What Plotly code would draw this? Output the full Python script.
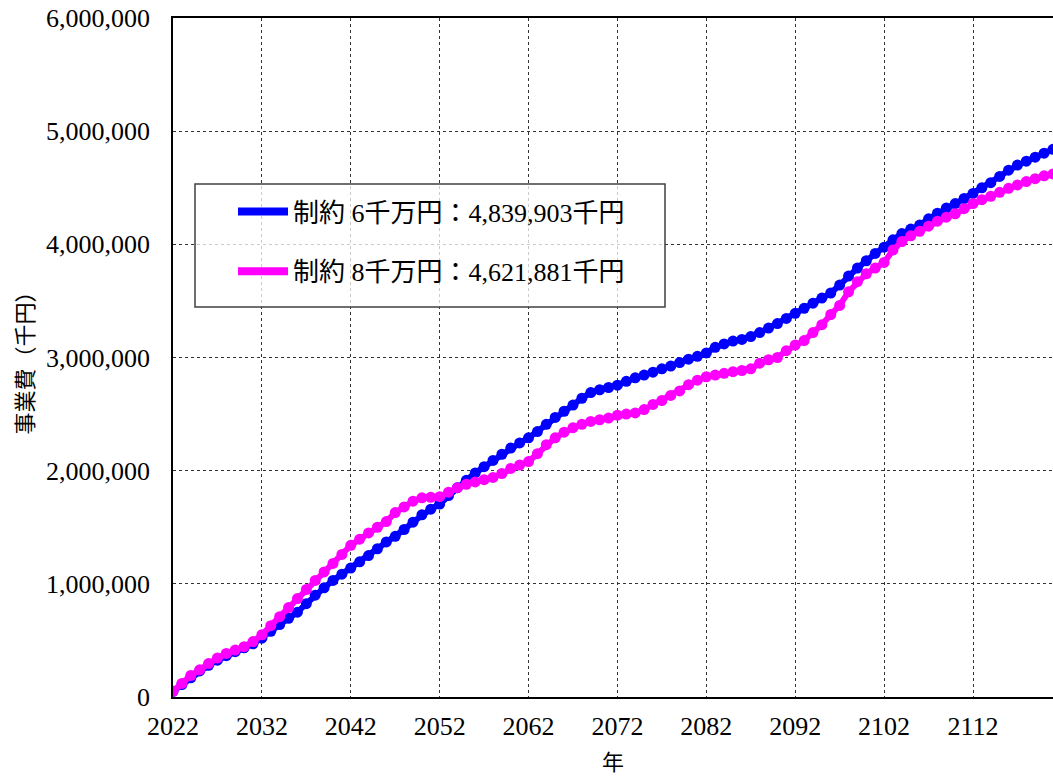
import plotly.graph_objects as go

years = list(range(2022, 2122))

# 事業費 累計（千円） 制約6千万円
cost_6 = [
    50, 110, 170, 230, 280, 325, 365, 400, 435, 470,
    520, 580, 640, 695, 750, 825, 900, 965, 1030, 1085,
    1140, 1195, 1250, 1310, 1370, 1420, 1480, 1545, 1610, 1660,
    1705, 1780, 1850, 1915, 1980, 2035, 2090, 2145, 2200, 2245,
    2290, 2345, 2410, 2470, 2525, 2580, 2640, 2690, 2715, 2735,
    2755, 2790, 2820, 2845, 2870, 2900, 2925, 2955, 2985, 3010,
    3040, 3090, 3120, 3145, 3160, 3185, 3220, 3260, 3300, 3345,
    3390, 3435, 3480, 3525, 3570, 3640, 3720, 3790, 3855, 3920,
    3975, 4040, 4095, 4135, 4170, 4225, 4275, 4320, 4360, 4405,
    4450, 4500, 4545, 4600, 4655, 4700, 4735, 4770, 4805, 4839.903,
]
# 事業費 累計（千円） 制約8千万円
cost_8 = [
    50, 120, 190, 240, 295, 345, 385, 415, 445, 490,
    550, 630, 710, 790, 870, 950, 1030, 1105, 1180, 1260,
    1340, 1395, 1450, 1500, 1550, 1630, 1680, 1730, 1760, 1765,
    1770, 1810, 1850, 1880, 1900, 1920, 1940, 1975, 2020, 2050,
    2080, 2150, 2230, 2290, 2340, 2380, 2410, 2435, 2450, 2465,
    2490, 2500, 2510, 2540, 2585, 2620, 2665, 2705, 2760, 2800,
    2830, 2845, 2860, 2875, 2885, 2900, 2950, 2980, 3000, 3060,
    3110, 3150, 3220, 3290, 3380, 3460, 3580, 3670, 3740, 3790,
    3840, 3950, 4025, 4075, 4115, 4160, 4205, 4240, 4270, 4315,
    4360, 4395, 4425, 4460, 4495, 4525, 4555, 4580, 4605, 4621.881,
]
cost_6 = [v * 1000 for v in cost_6]
cost_8 = [v * 1000 for v in cost_8]

series_names = ["制約 6千万円：4,839,903千円", "制約 8千万円：4,621,881千円"]
series_colors = ["#0000FF", "#FF00FF"]
x_ticks = list(range(2022, 2113, 10))
y_ticks = [0, 1000000, 2000000, 3000000, 4000000, 5000000, 6000000]

FONT = "Liberation Serif, Noto Sans CJK JP, serif"
FONT_T = "Noto Sans CJK JP, sans-serif"

fig = go.Figure()
for vals, name, col in zip([cost_6, cost_8], series_names, series_colors):
    fig.add_trace(go.Scatter(
        x=years, y=vals, mode="lines+markers", name=name, showlegend=False,
        line=dict(color=col, width=6),
        marker=dict(color=col, size=11, symbol="circle"),
    ))
for i, (name, col) in enumerate(zip(series_names, series_colors)):
    fig.add_trace(go.Scatter(
        x=[None], y=[None], mode="lines", name=name, legendgroup=f"g{i}",
        line=dict(color=col, width=8),
    ))

fig.add_shape(type="rect", xref="paper", yref="paper",
              x0=(195 - 173) / 880, x1=(665 - 173) / 880,
              y0=(697 - 307) / 679, y1=(697 - 184) / 679,
              line=dict(color="#404040", width=1.5),
              fillcolor="rgba(255,255,255,0.75)", layer="above")

fig.update_layout(
    width=1053, height=776,
    margin=dict(l=173, r=0, t=18, b=79),
    paper_bgcolor="white", plot_bgcolor="white",
    font=dict(family=FONT, size=26, color="black"),
    showlegend=True,
    legend=dict(
        x=(233 - 173) / 880, y=(697 - 188) / 679, xanchor="left", yanchor="top",
        bgcolor="rgba(0,0,0,0)", borderwidth=0,
        font=dict(family=FONT, size=26, color="black"),
        tracegroupgap=23, itemwidth=50,
    ),
    xaxis=dict(
        range=[2022, 2121], tickvals=x_ticks, ticktext=[str(t) for t in x_ticks],
        showline=True, linecolor="black", linewidth=1.5, mirror=True,
        showgrid=True, gridcolor="#333333", gridwidth=1, griddash="dot",
        zeroline=False, ticks="", ticklabelstandoff=5, automargin=False,
        ticklabeloverflow="allow",
        title=dict(text="年", font=dict(family=FONT_T, size=22), standoff=15),
        tickfont=dict(size=26),
    ),
    yaxis=dict(
        range=[0, 6000000], tickvals=y_ticks, tickformat=",d",
        showline=True, linecolor="black", linewidth=1.5, mirror=True,
        showgrid=True, gridcolor="#333333", gridwidth=1, griddash="dot",
        zeroline=False, ticks="", ticklabelstandoff=16, automargin=False,
        ticklabeloverflow="allow",
        title=dict(text="事業費（千円）", font=dict(family=FONT_T, size=22), standoff=6),
        tickfont=dict(size=26),
    ),
)

fig.write_html("out.html", config={"displayModeBar": False},
               post_script="document.body.style.margin='0';")
